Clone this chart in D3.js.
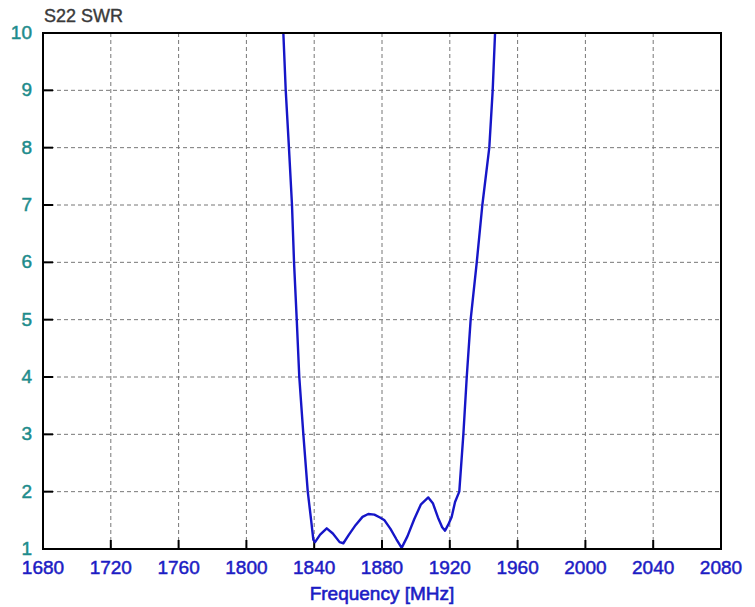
<!DOCTYPE html>
<html>
<head>
<meta charset="utf-8">
<title>S22 SWR</title>
<script src="https://cdn.jsdelivr.net/npm/d3@7"></script>
<style>
  body { margin: 0; background: #fff; }
  text { font-family: Arial, "Liberation Sans", sans-serif; }
  .grid line { stroke: #777; stroke-width: 1; stroke-dasharray: 4 3; }
</style>
</head>
<body>
<script>
// frequency [MHz] and SWR
var freq = [1821.8, 1823.2, 1825.1, 1826.9, 1828.1, 1829.7, 1831.2, 1833.6, 1836.2, 1838.2,
            1839.5, 1840.5, 1843.5, 1847.4, 1851.0, 1855.0, 1857.2, 1860.5, 1864.5, 1868.5,
            1871.9, 1875.5, 1878.8, 1881.5, 1885.0, 1888.5, 1891.6, 1895.0, 1899.0, 1903.0,
            1907.3, 1910.0, 1913.0, 1915.5, 1917.2, 1919.0, 1921.1, 1923.1, 1925.6, 1928.0,
            1930.0, 1932.3, 1935.9, 1939.2, 1943.3, 1945.3, 1946.7];
var swr  = [10, 9, 8, 7, 6, 5, 4, 3, 2, 1.5,
            1.16, 1.12, 1.25, 1.36, 1.27, 1.12, 1.10, 1.25, 1.42, 1.56,
            1.61, 1.60, 1.55, 1.50, 1.35, 1.17, 1.02, 1.22, 1.52, 1.78,
            1.90, 1.80, 1.55, 1.38, 1.32, 1.42, 1.56, 1.82, 2, 3,
            4, 5, 6, 7, 8, 9, 10];
var xTicks = [1680, 1720, 1760, 1800, 1840, 1880, 1920, 1960, 2000, 2040, 2080];
var yTicks = [1, 2, 3, 4, 5, 6, 7, 8, 9, 10];

var width = 755, height = 607;
var pL = 43, pR = 721, pT = 33, pB = 549;

var svg = d3.select('body').append('svg')
  .attr('width', width).attr('height', height);

var x = d3.scaleLinear().domain([1680, 2080]).range([pL, pR]);
var y = d3.scaleLinear().domain([1, 10]).range([pB, pT]);

// dashed grid
var grid = svg.append('g').attr('class', 'grid');
grid.selectAll('.vx').data(xTicks.slice(1, -1)).enter().append('line')
  .attr('x1', d => x(d)).attr('x2', d => x(d))
  .attr('y1', pT).attr('y2', pB);
grid.selectAll('.hy').data(yTicks.slice(1, -1)).enter().append('line')
  .attr('x1', pL).attr('x2', pR)
  .attr('y1', d => y(d)).attr('y2', d => y(d));

// inward ticks
var tk = svg.append('g').attr('stroke', '#000').attr('stroke-width', 2);
tk.selectAll('.tx').data(xTicks.slice(1, -1)).enter().append('line')
  .attr('x1', d => x(d)).attr('x2', d => x(d))
  .attr('y1', pB).attr('y2', pB - 9);
tk.selectAll('.ty').data(yTicks.slice(1, -1)).enter().append('line')
  .attr('x1', pL).attr('x2', pL + 10)
  .attr('y1', d => y(d)).attr('y2', d => y(d));

// curve
svg.append('clipPath').attr('id', 'clip').append('rect')
  .attr('x', pL).attr('y', pT).attr('width', pR - pL).attr('height', pB - pT);
var line = d3.line().x((d, i) => x(freq[i])).y(d => y(d));
svg.append('path')
  .datum(swr)
  .attr('clip-path', 'url(#clip)')
  .attr('fill', 'none')
  .attr('stroke', '#1616c8')
  .attr('stroke-width', 2.4)
  .attr('stroke-linejoin', 'round')
  .attr('d', line);

// frame
svg.append('rect')
  .attr('x', pL).attr('y', pT).attr('width', pR - pL).attr('height', pB - pT)
  .attr('fill', 'none').attr('stroke', '#000').attr('stroke-width', 2);

// tick labels
svg.selectAll('.xl').data(xTicks).enter().append('text')
  .attr('x', d => x(d)).attr('y', 574)
  .attr('text-anchor', 'middle')
  .attr('font-size', 19).attr('fill', '#1c1cc4')
  .attr('stroke', '#1c1cc4').attr('stroke-width', 0.5)
  .text(d => d);
svg.selectAll('.yl').data(yTicks).enter().append('text')
  .attr('x', 32).attr('y', d => y(d) + 6)
  .attr('text-anchor', 'end')
  .attr('font-size', 19).attr('fill', '#1e8c8c')
  .attr('stroke', '#1e8c8c').attr('stroke-width', 0.5)
  .text(d => d);

svg.append('text')
  .attr('x', 44).attr('y', 22)
  .attr('font-size', 18).attr('fill', '#3a3a3a')
  .attr('stroke', '#3a3a3a').attr('stroke-width', 0.4)
  .text('S22 SWR');

svg.append('text')
  .attr('x', (pL + pR) / 2).attr('y', 600)
  .attr('text-anchor', 'middle')
  .attr('font-size', 19).attr('fill', '#1c1cc4')
  .attr('stroke', '#1c1cc4').attr('stroke-width', 0.6)
  .text('Frequency [MHz]');
</script>
</body>
</html>
